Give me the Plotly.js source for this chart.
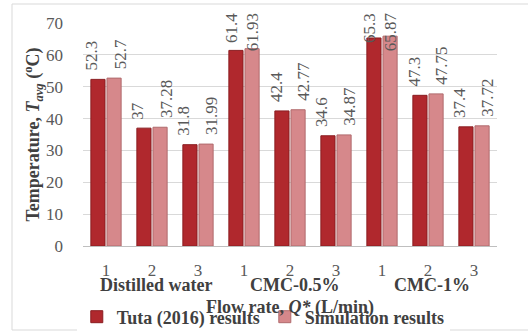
<!DOCTYPE html>
<html>
<head>
<meta charset="utf-8">
<script src="https://cdn.plot.ly/plotly-3.0.1.min.js"></script>
<style>html,body{margin:0;padding:0;background:#fff;}#chart{width:528px;height:331px;}</style>
</head>
<body>
<div id="chart"></div>
<script>
// ---- data ----
var groups = ["Distilled water", "CMC-0.5%", "CMC-1%"];
var flowRates = ["1", "2", "3", "1", "2", "3", "1", "2", "3"];
var groupOf = [0, 0, 0, 1, 1, 1, 2, 2, 2];
var seriesNames = ["Tuta (2016) results", "Simulation results"];
var tutaValues = [52.3, 37, 31.8, 61.4, 42.4, 34.6, 65.3, 47.3, 37.4];
var simValues = [52.7, 37.28, 31.99, 61.93, 42.77, 34.87, 65.87, 47.75, 37.72];
var yTicks = [0, 10, 20, 30, 40, 50, 60, 70];

// ---- style ----
var serif = "Liberation Serif";
var W = 528, H = 331;
var M = {l: 83, r: 31, t: 23, b: 85, autoexpand: false};
var plotH = H - M.t - M.b;
var yMax = 70;
var pxPerUnit = plotH / yMax;
var colors = ["#B0282D", "#D6888B"];
var edge = ["#8A1D21", "#B06A6D"];
var labelSize = 17;

var idx = flowRates.map(function (_, i) { return i; });
var allValues = [tutaValues, simValues];

var traces = allValues.map(function (vals, s) {
  return {
    type: "bar",
    name: seriesNames[s],
    x: idx,
    y: vals,
    marker: {color: colors[s], line: {color: edge[s], width: 1}},
    hoverinfo: "y"
  };
});

// data labels (rotated, kept inside the chart area like the original)
var annotations = [];
var labelGap = 9;            // px above bar
var topLimitPx = -10;        // px above plot top where labels must stop
function labelLen(t) {
  var n = 0;
  for (var k = 0; k < t.length; k++) n += (t[k] === "." ? 0.25 : 0.5) * labelSize;
  return n;
}
allValues.forEach(function (vals, s) {
  vals.forEach(function (v, i) {
    var txt = String(v);
    var len = labelLen(txt);
    var topPx = (yMax - v) * pxPerUnit - labelGap - len; // px from plot top
    var clamp = topPx < topLimitPx;
    annotations.push({
      x: i, xref: "x",
      y: clamp ? 1 - topLimitPx / plotH : v, yref: clamp ? "paper" : "y",
      text: txt, showarrow: false, textangle: -90,
      xanchor: "center", yanchor: "middle",
      xshift: clamp ? (s === 0 ? -12 : 8) : (s === 0 ? -14 : 14),
      yshift: clamp ? -len / 2 : labelGap + len / 2,
      font: {family: serif, size: labelSize, color: "#595959"}
    });
  });
});

// group labels
groups.forEach(function (g, gi) {
  var members = idx.filter(function (i) { return groupOf[i] === gi; });
  var mid = (members[0] + members[members.length - 1]) / 2;
  annotations.push({
    x: mid, xref: "x", y: -39 / plotH, yref: "paper",
    text: "<b>" + g + "</b>", showarrow: false, xanchor: "center", yanchor: "middle", xshift: 4,
    font: {family: serif, size: 18, color: "#404040"}
  });
});

var layout = {
  width: W, height: H,
  margin: M,
  font: {family: serif},
  paper_bgcolor: "#fff", plot_bgcolor: "#fff",
  barmode: "group", bargap: 0.3, bargroupgap: 0.12,
  showlegend: true,
  legend: {
    orientation: "h", x: -0.015, xanchor: "left", y: -71 / plotH, yanchor: "middle",
    font: {family: serif, size: 18, color: "#404040", weight: "bold"},
    itemwidth: 30, tracegroupgap: 0
  },
  xaxis: {
    type: "linear", range: [-0.5, 8.5],
    tickvals: idx, ticktext: flowRates,
    tickfont: {family: serif, size: 17, color: "#595959"},
    showgrid: false, zeroline: false, showline: true, linecolor: "#BFBFBF", linewidth: 1,
    ticks: "", automargin: false, ticklabelstandoff: 9,
    title: {text: "<b>Flow rate, <i>Q*</i> (L/min)</b>", standoff: 20,
            font: {family: serif, size: 18, color: "#404040"}}
  },
  yaxis: {
    range: [0, yMax], tickvals: yTicks, ticktext: yTicks.map(String),
    tickfont: {family: serif, size: 17, color: "#595959"},
    gridcolor: "#D9D9D9", gridwidth: 1, zeroline: false, showline: false,
    ticks: "", ticklabelstandoff: 19, automargin: false,
    title: {text: "<b>Temperature, <i>T</i><sub><i>avg</i></sub> (<sup>o</sup>C)</b>", standoff: 0,
            font: {family: serif, size: 18, color: "#404040"}}
  },
  annotations: annotations,
  shapes: [{
    type: "rect", xref: "paper", yref: "paper",
    x0: -71 / 414, x1: 450 / 414, y0: (M.t + plotH - 330) / plotH, y1: (M.t + plotH - 4) / plotH,
    line: {color: "#D9D9D9", width: 1}, fillcolor: "rgba(0,0,0,0)", layer: "below"
  }]
};

Plotly.newPlot("chart", traces, layout, {displayModeBar: false, staticPlot: true});
</script>
</body>
</html>
